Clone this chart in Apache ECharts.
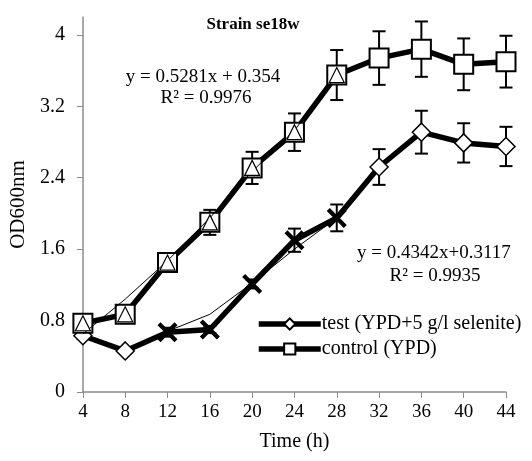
<!DOCTYPE html>
<html>
<head>
<meta charset="utf-8">
<script src="https://cdn.jsdelivr.net/npm/echarts@6/dist/echarts.min.js"></script>
<style>
  html, body { margin: 0; padding: 0; background: #fff; }
  #chart { width: 532px; height: 461px; }
</style>
</head>
<body>
<div id="chart"></div>
<script>
// time points (h)
var hours = [4, 8, 12, 16, 20, 24, 28, 32, 36, 40, 44];
// control (YPD) OD600 and error
var ctrlOD  = [0.77, 0.87, 1.45, 1.90, 2.51, 2.91, 3.55, 3.74, 3.84, 3.67, 3.70];
var ctrlErr = [0.04, 0.05, 0.06, 0.14, 0.18, 0.21, 0.28, 0.30, 0.31, 0.29, 0.29];
// test (YPD+5 g/l selenite) OD600 and error
var testOD  = [0.63, 0.46, 0.67, 0.70, 1.21, 1.70, 1.95, 2.52, 2.91, 2.79, 2.75];
var testErr = [0.03, 0.03, 0.05, 0.04, 0.05, 0.13, 0.15, 0.20, 0.24, 0.22, 0.22];
// points used for the linear fits
var ctrlFitHours = [4, 8, 12, 16, 20, 24, 28];
var testFitHours = [12, 16, 20, 24, 28];
// thin fit lines as drawn
var ctrlFitLine = [0.65, 1.04, 1.47, 1.95, 2.47, 2.93, 3.55];
var testFitLine = [0.68, 0.87, 1.22, 1.60, 1.95];
var yTicks = [0, 0.8, 1.6, 2.4, 3.2, 4];

var font = '"Liberation Serif", "Times New Roman", serif';

function pairs(xs, ys) {
    return xs.map(function (x, i) { return [x, ys[i]]; });
}

var myChart = echarts.init(document.getElementById('chart'));

// thick "X" marker
var crossPath = 'path://M0,3 L3,0 L10,7 L17,0 L20,3 L13,10 L20,17 L17,20 L10,13 L3,20 L0,17 L7,10 Z';

function errorBars(ys, es) {
    return hours.map(function (h, i) { return [h, ys[i], es[i]]; });
}

function renderErr(params, api) {
    var x = api.value(0), y = api.value(1), e = api.value(2);
    var top = api.coord([x, y + e]);
    var bot = api.coord([x, y - e]);
    var w = 6.5;
    var st = { stroke: '#000', lineWidth: 2 };
    return {
        type: 'group',
        children: [
            { type: 'line', shape: { x1: top[0], y1: top[1], x2: bot[0], y2: bot[1] }, style: st },
            { type: 'line', shape: { x1: top[0] - w, y1: top[1], x2: top[0] + w, y2: top[1] }, style: st },
            { type: 'line', shape: { x1: bot[0] - w, y1: bot[1], x2: bot[0] + w, y2: bot[1] }, style: st }
        ]
    };
}

// diamonds hidden where the X markers sit
var testData = hours.map(function (h, i) {
    var d = { value: [h, testOD[i]] };
    if (testFitHours.indexOf(h) >= 0) d.symbol = 'none';
    return d;
});

var option = {
    animation: false,
    title: {
        text: 'Strain se18w',
        left: 248,
        top: 11,
        textAlign: 'center',
        textStyle: { fontFamily: font, fontWeight: 'bold', fontSize: 17, color: '#000' }
    },
    legend: {
        orient: 'vertical',
        left: 251,
        top: 309,
        itemWidth: 62,
        itemHeight: 14,
        itemGap: 5,
        data: ['test (YPD+5 g/l selenite)', 'control (YPD)'],
        lineStyle: { width: 5.5, color: '#000' },
        textStyle: { fontFamily: font, fontSize: 20, color: '#000', padding: [0, 0, 0, -4] }
    },
    grid: { left: 75, right: 26, top: 17, bottom: 69 },
    xAxis: {
        type: 'value',
        min: 4, max: 44, interval: 4,
        name: 'Time (h)',
        nameLocation: 'middle',
        nameGap: 40,
        nameTextStyle: { fontFamily: font, fontSize: 20, color: '#000' },
        axisLine: { lineStyle: { color: '#8c8c8c', width: 1.5 } },
        axisTick: { show: true, length: 6, lineStyle: { color: '#8c8c8c' } },
        axisLabel: { fontFamily: font, fontSize: 19, color: '#000', margin: 11 },
        splitLine: { show: false }
    },
    yAxis: {
        type: 'value',
        min: 0, max: 4.2,
        name: 'OD600nm',
        nameLocation: 'middle',
        nameGap: 48,
        nameTextStyle: { fontFamily: font, fontSize: 21, color: '#000' },
        axisLine: { show: true, lineStyle: { color: '#8c8c8c', width: 1.5 } },
        axisTick: { show: true, length: 6, lineStyle: { color: '#8c8c8c' }, customValues: yTicks },
        axisLabel: { fontFamily: font, fontSize: 20, color: '#000', margin: 18, customValues: yTicks },
        splitLine: { show: false }
    },
    graphic: [
        { type: 'text', x: 203, y: 77, style: { text: 'y = 0.5281x + 0.354', font: '19px ' + font, fill: '#000', align: 'center', verticalAlign: 'middle' } },
        { type: 'text', x: 206, y: 98, style: { text: 'R² = 0.9976', font: '19px ' + font, fill: '#000', align: 'center', verticalAlign: 'middle' } },
        { type: 'text', x: 357, y: 253, style: { text: 'y = 0.4342x+0.3117', font: '19px ' + font, fill: '#000', align: 'left', verticalAlign: 'middle' } },
        { type: 'text', x: 435, y: 276, style: { text: 'R² = 0.9935', font: '19px ' + font, fill: '#000', align: 'center', verticalAlign: 'middle' } }
    ],
    series: [
        {
            type: 'custom', name: 'ctrlErr', z: 1,
            renderItem: renderErr,
            data: errorBars(ctrlOD, ctrlErr)
        },
        {
            type: 'custom', name: 'testErr', z: 1,
            renderItem: renderErr,
            data: errorBars(testOD, testErr)
        },
        {
            name: 'test (YPD+5 g/l selenite)',
            type: 'line', z: 3,
            data: testData,
            symbol: 'diamond',
            symbolSize: 18,
            showAllSymbol: true,
            lineStyle: { color: '#000', width: 5.5 },
            itemStyle: { color: '#fff', borderColor: '#000', borderWidth: 1.5 }
        },
        {
            name: 'control (YPD)',
            type: 'line', z: 3,
            data: pairs(hours, ctrlOD),
            symbol: 'rect',
            symbolSize: 19,
            showAllSymbol: true,
            lineStyle: { color: '#000', width: 5.5 },
            itemStyle: { color: '#fff', borderColor: '#000', borderWidth: 2 }
        },
        {
            name: 'ctrlFit', type: 'line', z: 4,
            data: pairs(ctrlFitHours, ctrlFitLine),
            symbol: 'none',
            lineStyle: { color: '#000', width: 1 }
        },
        {
            name: 'testFit', type: 'line', z: 4,
            data: pairs(testFitHours, testFitLine),
            symbol: 'none',
            lineStyle: { color: '#000', width: 1 }
        },
        {
            name: 'ctrlTri', type: 'line', z: 5,
            data: ctrlFitHours.map(function (h) { return [h, ctrlOD[hours.indexOf(h)]]; }),
            symbol: 'triangle',
            symbolSize: [15, 15],
            lineStyle: { width: 0, opacity: 0 },
            itemStyle: { color: '#fff', borderColor: '#000', borderWidth: 1.2 }
        },
        {
            name: 'testX', type: 'line', z: 5,
            data: testFitHours.map(function (h) { return [h, testOD[hours.indexOf(h)]]; }),
            symbol: crossPath,
            symbolSize: 20,
            lineStyle: { width: 0, opacity: 0 },
            itemStyle: { color: '#000' }
        }
    ]
};

myChart.setOption(option);
</script>
</body>
</html>
